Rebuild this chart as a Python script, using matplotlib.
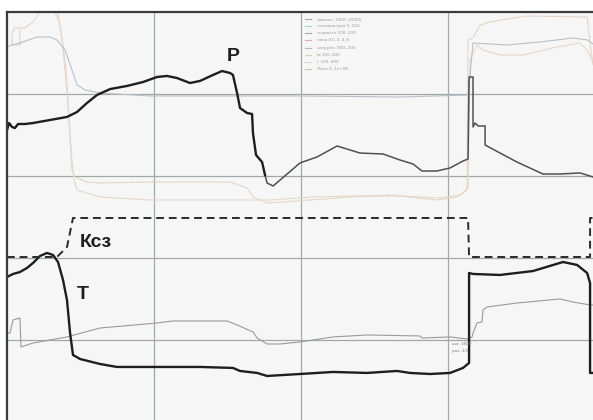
import matplotlib
matplotlib.use("Agg")
import matplotlib.pyplot as plt

# ---- data (x: time units, y: chart units; grid every 100) ----
p_x = [0, 1.4, 3.4, 5.4, 7.5, 12.2, 17.7, 29.3, 40.8, 47.6, 54.4, 61.2, 70.1, 81.6, 92.5, 102,
       108.8, 115.6, 124.5, 131.3, 140.1, 146.3, 151.7, 153.7, 156.5, 158.5, 163.3, 166.7,
       167.3, 169.4, 173.5, 175.5]
p_y = [356, 364.6, 359.8, 358.5, 363.4, 363.4, 364.6, 368.3, 372, 378, 389, 398.8, 406, 409.8,
       414.6, 420.7, 422, 419.5, 413.4, 415.9, 423.2, 428, 425.6, 423.2, 401.2, 382.9, 376.8,
       375.6, 352.4, 325.6, 317, 301.2]

p2_x = [175.5, 176.9, 181, 199.3, 210.9, 224.5, 240.1, 255.8, 267.3, 276.2, 282.3, 292.5, 301.4,
        310.2, 313.6, 314.3, 317, 317, 318.4, 320.4, 325.2, 325.2, 335.4, 346.9, 364.6, 376.2,
        389.8, 398.6]
p2_y = [301.2, 291.5, 287.8, 315.9, 323.2, 336.6, 328, 326.8, 319.5, 314.6, 306.1, 306.1, 309.8,
        318.3, 320.7, 420.7, 420.7, 359.8, 364.6, 361, 361, 337.8, 328, 317, 302.4, 302.4,
        303.7, 298.8]

t_x = [0, 4.1, 8.8, 13.6, 17.7, 22.4, 27.2, 31.3, 34.7, 38.1, 40.8, 42.9, 44.9, 49.7, 63.3, 74.8,
       104.1, 131.3, 153.7, 158.5, 170.1, 176.9, 199.3, 221.8, 244.9, 265.3, 274.1, 287.8, 301.4,
       310.2, 314.3, 314.3, 317, 335.4, 357.8, 378.2, 387.8, 394.6, 396.6, 396.6, 398.6]
t_y = [176.8, 180.5, 182.9, 187.8, 193.9, 202.4, 206.1, 203.7, 195.1, 173.2, 148.8, 108.5, 81.7,
       76.8, 70.7, 67.1, 67.1, 67.1, 65.9, 62.2, 59.8, 56.1, 58.5, 61, 59.8, 62.2, 59.8, 58.5,
       59.8, 65.9, 72, 181.7, 180.5, 179.3, 184.1, 195.1, 191.5, 181.7, 169.5, 59.8, 59.8]

k_x = [0, 34, 40.8, 44.9, 313.6, 314.3, 396.6, 396.6, 398.6]
k_y = [201.2, 201.2, 213.4, 248.8, 248.8, 201.2, 201.2, 248.8, 248.8]

g_x = [0, 2, 4.1, 8.8, 9.5, 17.7, 40.8, 63.3, 102, 112.9, 149.7, 156.5, 167.3, 170.1, 176.9,
       185.7, 199.3, 221.8, 244.9, 281, 282.3, 301.4, 312.9, 316.3, 317, 319.7, 323.1, 323.8,
       326.5, 346.9, 376.2, 385, 396.6, 398.6]
g_y = [108.5, 108.5, 124.4, 126.8, 91.5, 96.3, 103.7, 114.6, 120.7, 123.2, 123.2, 118.3, 109.8,
       102.4, 95.1, 95.1, 97.6, 103.7, 106.1, 104.9, 102.4, 103.7, 101.2, 103.7, 108.5, 120.7,
       122, 136.6, 140.2, 145.1, 150, 146.3, 142.7, 142.7]

b_x = [0, 3.4, 8.8, 20.4, 29.3, 34, 39.5, 44.2, 47.6, 53.1, 63.3, 97.3, 199.3, 267.3, 313.6,
       317, 340.1, 362.6, 385, 394.6, 398.6]
b_y = [457.3, 459.8, 462.2, 469.5, 469.5, 465.9, 453.7, 429.3, 411, 404.9, 401.2, 397.6, 397.6,
       396.3, 398.8, 462.2, 459.8, 463.4, 468.3, 466, 461]

ta_x = [32.7, 36.1, 38.1, 40.1, 41.5, 42.9, 44.2, 46.3, 54.4, 63.3, 97.3, 151.7, 163.3, 167.3,
        176.9, 187.8, 233.3, 262.6, 279, 292.5, 306.1, 312.9, 313.6, 317, 321.8, 328.6, 340.1,
        353.7, 394.6, 396.6, 398.6]
ta_y = [500, 484.1, 459.8, 429.3, 392.7, 343.9, 307.3, 298.8, 292.7, 291.5, 292.7, 292.7, 285.4,
        274.4, 267.1, 268.3, 274.4, 276.8, 273.2, 270.7, 274.4, 282.9, 465.9, 468.3, 484.1,
        487.8, 491.5, 495.1, 493.9, 462.2, 435.4]

tb_x = [34.7, 37.4, 40.1, 42.2, 44.2, 45.6, 47.6, 63.3, 97.3, 131.3, 163.3, 178.9, 208.2, 233.3,
        267.3, 294.6, 308.2, 313.6, 315, 319.7, 323.8, 335.4, 351, 374.1, 389.8, 394.6, 398.6]
tb_y = [500, 465.9, 417.1, 368.3, 319.5, 295.1, 282.9, 274.4, 270.7, 270.7, 270.7, 270.7, 274.4,
        275.6, 275.6, 273.2, 276.8, 285.4, 441.5, 459.8, 453.7, 447.6, 447.6, 457.3, 462.2,
        453.7, 439]

tc_x = [22.4, 17.7, 12.2, 5.4, 3.4, 3.4, 8.8, 8.8]
tc_y = [500, 487.8, 480.5, 480.5, 474.4, 459.8, 459.8, 478]

legend_labels = ["давлен. 1000..20000", "температура 0..250", "скорость 100..200",
                 "нагр.Э.С.З. 4..6", "затрубн. 800..200", "Ia 100..400", "I. 100..400",
                 "Линк 0..1e+08"]
legend_colors = ["#a8a8a8", "#9fd8e4", "#a8a8a8", "#dca6cf", "#b8b8b8", "#dccfa8",
                 "#e0d8c8", "#cfc89c"]

# ---- figure ----
fig = plt.figure(figsize=(5.93, 4.20), dpi=100)
fig.patch.set_facecolor("white")
ax = fig.add_axes([7 / 593, 0, 1 - 7 / 593, 408 / 420])
ax.set_facecolor("#f6f6f6")
ax.set_xlim(0, 398.6)
ax.set_ylim(2.4, 500)
ax.set_xticks([100, 200, 300])
ax.set_yticks([100, 200, 300, 400])
ax.tick_params(length=0, labelbottom=False, labelleft=False)
ax.grid(True, color="#a0a8a8", lw=0.9)
ax.set_axisbelow(True)
for s in ["right", "bottom"]:
    ax.spines[s].set_visible(False)
for s in ["left", "top"]:
    ax.spines[s].set_color("#3a3a3a")
    ax.spines[s].set_linewidth(1.6)

# light background curves
ax.plot(tc_x, tc_y, color="#e4d4c6", lw=0.8)
ax.plot(ta_x, ta_y, color="#e0c8b4", lw=0.8, ls=(0, (1.5, 0.6)))
ax.plot(tb_x, tb_y, color="#e6d8c8", lw=0.8)
ax.plot(b_x, b_y, color="#b8c0cc", lw=0.8)
ax.plot(g_x, g_y, color="#9a9a9a", lw=0.8)

# main curves
ax.plot(p2_x, p2_y, color="#505050", lw=1.1)
ax.plot(p_x, p_y, color="#1e1e1e", lw=1.7, solid_joinstyle="round")
ax.plot(t_x, t_y, color="#1e1e1e", lw=1.7, solid_joinstyle="round")
kl, = ax.plot(k_x, k_y, color="#2a2a2a", lw=1.4)
kl.set_dashes((4, 2.5))

# labels
lab = dict(fontsize=14, fontweight="bold", family=["Liberation Sans", "DejaVu Sans"],
           color="#1e1e1e", ha="center", va="center")
ax.text(153.7, 446.3, "Р", **lab)
ax.text(60.5, 218.9, "Ксз", **lab)
ax.text(51.4, 155.5, "Т", **lab)

# tiny legend
for i, (lbl, c) in enumerate(zip(legend_labels, legend_colors)):
    yy = 491.1 - i * 8.6
    ax.plot([202.7, 206.8], [yy, yy], color=c, lw=0.8)
    ax.text(210.9, yy, lbl, fontsize=3, color="#999999", va="center", ha="left")

ax.text(302.7, 95.1, "шл. 1600", fontsize=3, color="#777777", va="center", ha="left")
ax.text(302.7, 86.6, "роз. 1/1", fontsize=3, color="#777777", va="center", ha="left")

fig.savefig("out.png", dpi=100, facecolor="white")
